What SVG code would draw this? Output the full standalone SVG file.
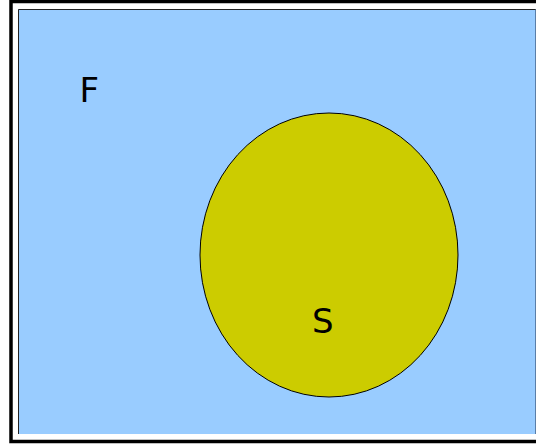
<svg xmlns="http://www.w3.org/2000/svg" width="536" height="444" viewBox="0 0 536 444">
<style>
.lbl{font-family:"DejaVu Sans",sans-serif;font-size:34px;fill:#000}
</style>
<rect width="536" height="444" fill="#fff"/>
<rect x="11" y="1.5" width="540" height="440" fill="none" stroke="#000" stroke-width="3.5"/>
<g id="F">
<rect x="18" y="9" width="518" height="425" fill="#99ccff"/>
<path d="M18.5 434V9.5H536" fill="none" stroke="#222" stroke-width="1"/>
<path d="M535.5 9.5V434" fill="none" stroke="#5a7ea8" stroke-width="1"/>
<text class="lbl" x="79.5" y="101.5">F</text>
</g>
<g id="S">
<ellipse cx="329" cy="255" rx="129" ry="142" fill="#cccc00" stroke="#000" stroke-width="1"/>
<text class="lbl" x="312" y="332.5">S</text>
</g>
<g id="connectors"/>
</svg>
